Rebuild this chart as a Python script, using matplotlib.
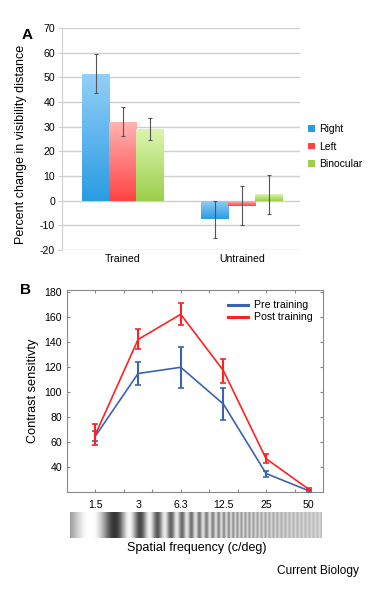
import numpy as np
import matplotlib
matplotlib.use("Agg")
import matplotlib.pyplot as plt
from matplotlib.colors import to_rgb
from matplotlib.patches import Patch
from matplotlib.lines import Line2D

plt.rcParams['font.family'] = ['Liberation Sans', 'DejaVu Sans']
plt.rcParams['axes.unicode_minus'] = False

# ---- panel A data ----
groups = ['Trained', 'Untrained']
eyes = ['Right', 'Left', 'Binocular']
right_vals = [51.5, -7.5]
right_err = [8.0, 7.5]
left_vals = [32.0, -2.0]
left_err = [6.0, 8.0]
bino_vals = [29.0, 2.5]
bino_err = [4.5, 7.8]

# ---- panel B data ----
freq_labels = ['1.5', '3', '6.3', '12.5', '25', '50']
pre_cs = [64.8, 115, 120, 90.5, 34.8, 21]
pre_err = [4.0, 9.5, 16.5, 12.5, 2.4, 0.8]
post_cs = [66, 142.3, 162.5, 117.3, 46.7, 22.2]
post_err = [8.5, 8.0, 8.7, 9.6, 3.4, 0.8]

# light (top) / dark (bottom) colours of the bar gradients
bar_cols = {
    'Right': ('#93cff9', '#2a9ce2'),
    'Left': ('#ffb3b3', '#ff4343'),
    'Binocular': ('#dcf5ae', '#9ccf4c'),
}


def gradient_bar(ax, x, width, val, c_top, c_bot):
    y0, y1 = min(0, val), max(0, val)
    rect = plt.Rectangle((x - width / 2, y0), width, y1 - y0,
                         facecolor='none', edgecolor='none')
    ax.add_patch(rect)
    t = np.linspace(0, 1, 64)[:, None]
    top = np.array(to_rgb(c_top))
    bot = np.array(to_rgb(c_bot))
    img = (top * (1 - t) + bot * t)[:, None, :]
    im = ax.imshow(img, extent=(x - width / 2, x + width / 2, y0, y1),
                   aspect='auto', zorder=2, interpolation='bilinear')
    im.set_clip_path(rect)


fig = plt.figure(figsize=(3.76, 5.89), dpi=100)

# ================= panel A =================
axA = fig.add_axes([0.165, 0.5756, 0.633, 0.377])
width = 0.227
xg = np.arange(len(groups))
series = [(right_vals, right_err), (left_vals, left_err), (bino_vals, bino_err)]
for i, (name, (vals, errs)) in enumerate(zip(eyes, series)):
    xs = xg + (i - 1) * width
    for x, v in zip(xs, vals):
        gradient_bar(axA, x, width, v, *bar_cols[name])
    axA.errorbar(xs, vals, yerr=errs, fmt='none', ecolor='#555555',
                 elinewidth=0.8, capsize=1.5, capthick=0.8, zorder=3)

axA.set_xlim(-0.508, 1.49)
axA.set_ylim(-20, 70)
axA.set_yticks(np.arange(-20, 71, 10))
axA.yaxis.grid(True, color='#cfcfcf', linewidth=1.0)
axA.set_axisbelow(True)
for s in ['top', 'right', 'bottom']:
    axA.spines[s].set_visible(False)
axA.spines['left'].set_color('#cfcfcf')
axA.tick_params(axis='y', length=3, color='#cfcfcf', labelsize=7.6, pad=2)
axA.set_xticks(xg)
axA.set_xticklabels(groups)
axA.tick_params(axis='x', length=0, labelsize=7.6, pad=3)
axA.set_ylabel('Percent change in visibility distance', fontsize=9.0)
axA.yaxis.set_label_coords(-0.147, 0.475)

handles = [Patch(facecolor=bar_cols[e][1], edgecolor='none') for e in eyes]
fig.legend(handles, eyes, loc='center left', bbox_to_anchor=(0.805, 0.751),
           frameon=False, fontsize=7.5, handlelength=0.65, handleheight=0.65,
           handletextpad=0.45, labelspacing=0.75, borderpad=0)
fig.text(0.058, 0.953, 'A', fontsize=11, fontweight='bold', va='top')

# ================= panel B =================
axB = fig.add_axes([0.178, 0.1647, 0.681, 0.343])
xb = np.arange(len(freq_labels))
blue = '#3b63b1'
red = '#ff2222'
axB.errorbar(xb, pre_cs, yerr=pre_err, color=blue, lw=1.2, elinewidth=1.5,
             capsize=2, capthick=1.2, label='Pre training', zorder=3)
axB.errorbar(xb, post_cs, yerr=post_err, color=red, lw=1.2, elinewidth=1.5,
             capsize=2, capthick=1.2, label='Post training', zorder=4)
axB.set_xlim(-2 / 3, 16 / 3)
axB.set_ylim(20, 182)
axB.set_yticks(np.arange(40, 181, 20))
axB.xaxis.remove_overlapping_locs = False
axB.set_xticks(np.arange(0, 5.3, 2 / 3))
axB.set_xticklabels([])
axB.set_xticks(xb, freq_labels, minor=True)
axB.tick_params(axis='x', which='minor', length=0, labelsize=7.6, pad=6)
axB.tick_params(axis='both', which='major', direction='in', length=2.5,
                color='#888888', top=True, right=True, labelsize=7.6)
for s in axB.spines.values():
    s.set_color('#888888')
    s.set_linewidth(0.8)
axB.set_ylabel('Contrast sensitivty', fontsize=9.2, labelpad=4)

leg_handles = [Line2D([], [], color=blue, lw=2.2),
               Line2D([], [], color=red, lw=2.2)]
axB.legend(leg_handles, ['Pre training', 'Post training'], loc='upper right',
           bbox_to_anchor=(0.99, 0.985), frameon=False, fontsize=7.6,
           handlelength=1.9, handletextpad=0.6, labelspacing=0.2,
           borderpad=0.2)
fig.text(0.052, 0.519, 'B', fontsize=11, fontweight='bold', va='top')

# grating strip below panel B
axG = fig.add_axes([0.186, 0.0866, 0.670, 0.0441])
px = np.linspace(70, 322, 2400)
k = np.where(px < 127, 0.028, 0.0165)
f = np.minimum(0.04 * np.exp(k * (px - 127)), 0.25)
cyc = np.cumsum(f) * (px[1] - px[0])
cyc = cyc - np.interp(115, px, cyc) + 0.5
u = (px - 70) / 252
mean = 0.55 + 0.25 * u
amp = 0.45 * (1 - u) ** 1.6 + 0.06
row = np.clip(mean + amp * np.cos(2 * np.pi * cyc), 0, 1)
axG.imshow(np.tile(row, (20, 1)), cmap='gray', vmin=0, vmax=1,
           aspect='auto', interpolation='antialiased')
axG.axis('off')

fig.text(0.522, 0.069, 'Spatial frequency (c/deg)', fontsize=9,
         ha='center', va='center')
fig.text(0.955, 0.030, 'Current Biology', fontsize=8.6, ha='right',
         va='center')

fig.savefig('out.png', dpi=100)
